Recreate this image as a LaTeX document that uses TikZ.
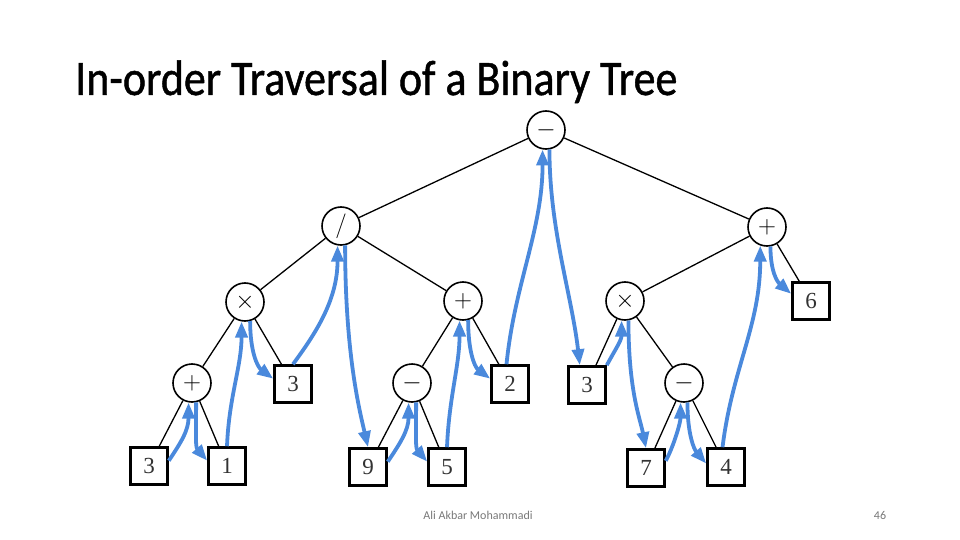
\documentclass[tikz,border=0pt]{standalone}
\usepackage{fontspec}
\setmainfont{Liberation Serif}
\newfontfamily\titlefont{Carlito}
\newfontfamily\titlebold[FakeBold=1.0]{Carlito}
\usetikzlibrary{arrows.meta}
\definecolor{trav}{RGB}{74,137,220}
\definecolor{foot}{RGB}{120,120,120}
\begin{document}
\begin{tikzpicture}[x=1pt,y=-1pt,
  opnode/.style={circle, draw, fill=white, line width=1.6pt, minimum size=38pt, inner sep=0pt, font=\fontsize{29}{29}\selectfont},
  leaf/.style={rectangle, draw, fill=white, line width=2.6pt, minimum size=37pt, inner sep=0pt, font=\fontsize{23}{23}\selectfont, text=black!80},
  treeedge/.style={line width=1.3pt},
  trv/.style={draw=trav, line width=3.8pt, -{Triangle[length=16pt,width=12pt]}}]
\useasboundingbox (0,0) rectangle (960,540);
% title and footer
\node[anchor=base west, inner sep=0pt, font=\titlebold\fontsize{44}{44}\selectfont] (title) at (75,95) {\scalebox{1}[1.13]{In-order Traversal of a Binary Tree}};
\node[font=\titlefont\fontsize{12}{12}\selectfont, text=foot] (author) at (478,515) {Ali Akbar Mohammadi};
\node[font=\titlefont\fontsize{12}{12}\selectfont, text=foot] (page) at (880,515) {46};
% nodes
\node[opnode] (root) at (546,130) {$-$};
\node[opnode] (div) at (341,226) {$/$};
\node[opnode] (pr) at (767,227) {$+$};
\node[opnode] (ml) at (245,302) {$\times$};
\node[opnode] (pm) at (463,301) {$+$};
\node[opnode] (mr) at (625,301) {$\times$};
\node[leaf] (b6) at (811,301) {6};
\node[opnode] (pl) at (192,383) {$+$};
\node[leaf] (b3a) at (293,384) {3};
\node[opnode] (mm) at (412,383) {$-$};
\node[leaf] (b2) at (510,384) {2};
\node[leaf] (b3b) at (587,385) {3};
\node[opnode] (mr2) at (684,383) {$-$};
\node[leaf] (b3) at (149,466) {3};
\node[leaf] (b1) at (227,466) {1};
\node[leaf] (b9) at (368,467) {9};
\node[leaf] (b5) at (447,467) {5};
\node[leaf] (b7) at (646,468) {7};
\node[leaf] (b4) at (726,467) {4};
% tree edges
\foreach \a/\b in {root/div, root/pr, div/ml, div/pm, ml/pl, ml/b3a, pl/b3, pl/b1, pm/mm, pm/b2, mm/b9, mm/b5, pr/mr, pr/b6, mr/b3b, mr/mr2, mr2/b7, mr2/b4}
  \draw[treeedge] (\a) -- (\b);
% traversal arrows
\draw[trv] (b3.15) .. controls +(12,-18) and +(0,28) .. (pl.-100);
\draw[trv] (pl.-78) .. controls +(0,32) and +(-12,-14) .. (b1.165);
\draw[trv] (b1.north) .. controls +(2,-50) and +(0,45) .. (ml.-100);
\draw[trv] (ml.-75) .. controls +(0,30) and +(-16,-12) .. (b3a.165);
\draw[trv] (b3a.north) .. controls +(22,-30) and +(0,55) .. (div.-100);
\draw[trv] (div.-78) .. controls +(0,110) and +(-8,-35) .. (b9.north);
\draw[trv] (b9.15) .. controls +(12,-18) and +(0,28) .. (mm.-100);
\draw[trv] (mm.-78) .. controls +(0,32) and +(-12,-14) .. (b5.165);
\draw[trv] (b5.north) .. controls +(2,-50) and +(0,45) .. (pm.-100);
\draw[trv] (pm.-75) .. controls +(0,30) and +(-16,-12) .. (b2.165);
\draw[trv] (b2.100) .. controls +(8,-80) and +(0,80) .. (root.-100);
\draw[trv] (root.-80) .. controls +(0,80) and +(-8,-70) .. (b3b.110);
\draw[trv] (b3b.45) .. controls +(8,-15) and +(0,20) .. (mr.-100);
\draw[trv] (mr.-80) .. controls +(0,70) and +(-6,-30) .. (b7.north);
\draw[trv] (b7.20) .. controls +(8,-15) and +(0,20) .. (mr2.-100);
\draw[trv] (mr2.-80) .. controls +(0,32) and +(-12,-14) .. (b4.170);
\draw[trv] (b4.100) .. controls +(10,-80) and +(0,80) .. (pr.-110);
\draw[trv] (pr.-80) .. controls +(0,25) and +(-14,-12) .. (b6.160);
\end{tikzpicture}
\end{document}
